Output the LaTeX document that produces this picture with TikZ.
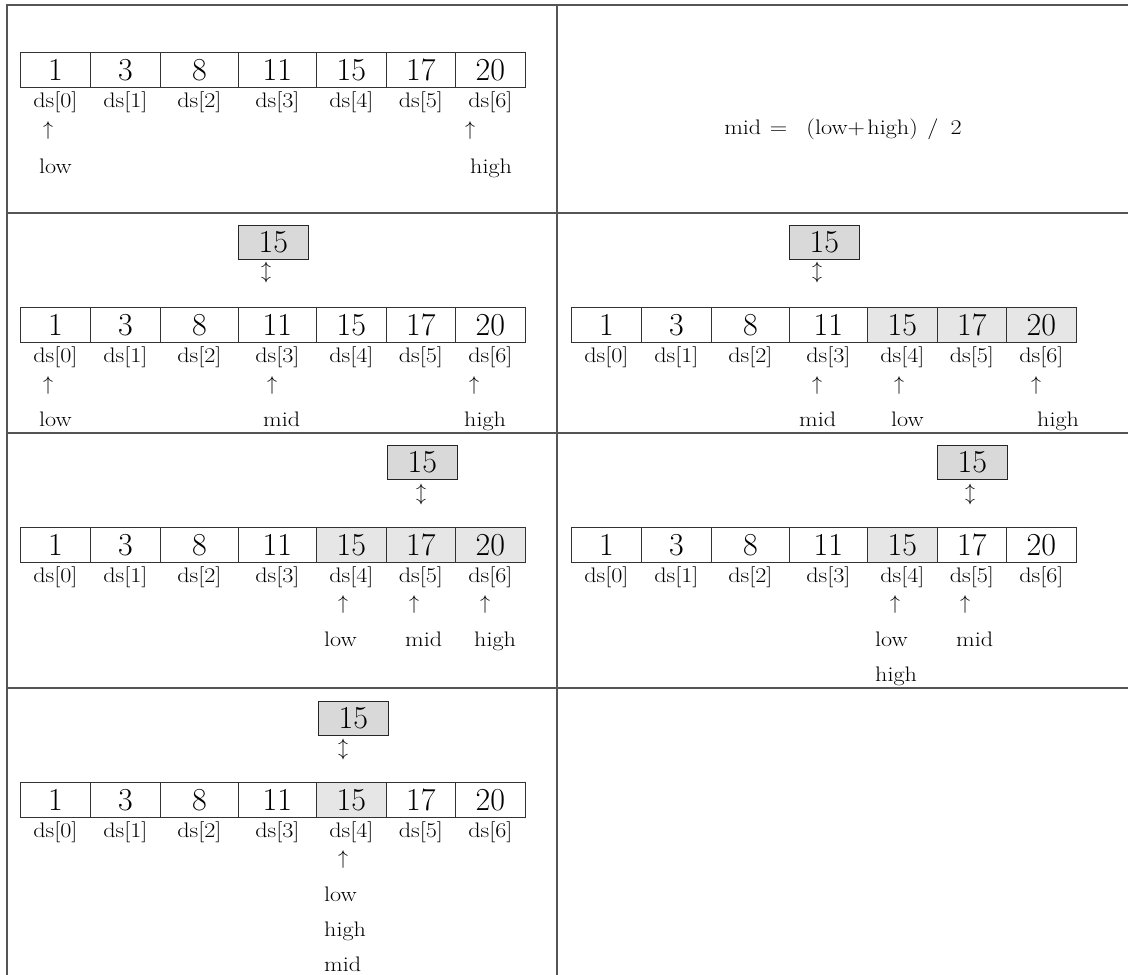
\RequirePackage{fix-cm}
\documentclass[tikz,border=0pt]{standalone}
\usepackage{graphicx}
\newcommand{\wt}[1]{\scalebox{1.15}[1]{#1}}
\definecolor{framegray}{HTML}{555555}
\definecolor{boxfill}{HTML}{D9D9D9}
\definecolor{cellfill}{HTML}{E6E6E6}
\tikzset{
  frameline/.style={draw=framegray, line width=1.3pt},
  cell/.style={draw=black!80, line width=0.8pt, inner sep=0pt, minimum height=35pt,
    anchor=north west, font=\fontsize{32}{32}\selectfont},
  keybox/.style={draw=black!85, line width=0.8pt, fill=boxfill, inner sep=0pt,
    minimum width=70pt, minimum height=34pt, anchor=north west, font=\fontsize{32}{32}\selectfont},
  idx/.style={inner sep=0pt, font=\fontsize{21}{21}\selectfont},
  ptr/.style={inner sep=0pt, font=\fontsize{20}{20}\selectfont},
  lbl/.style={inner sep=0pt, anchor=base west, font=\fontsize{21}{21}\selectfont},
}
% #1 name prefix, #2 x offset, #3 top y, #4..#5 highlighted range
\newcommand{\darray}[5]{%
  \foreach \i/\l/\w/\v in {0/20/70/1, 1/90/70/3, 2/160/78/8, 3/238/78/11,
                           4/316/70/15, 5/386/69/17, 6/455/70/20}{%
    \pgfmathtruncatemacro{\hh}{100*and(\i>=#4,\i<=#5)}%
    \node[cell, fill=cellfill!\hh!white, minimum width=\w pt] (#1c\i) at ({\l+#2},#3) {\v};
    \node[idx] (#1d\i) at ([yshift=-14pt]#1c\i.south) {\wt{ds[\i]}};
  }%
}
\begin{document}
\begin{tikzpicture}[x=1pt,y=-1pt]
\useasboundingbox (0,0) rectangle (1128,975);
% frame
\draw[frameline] (7,975) -- (7,5) -- (1128,5);
\draw[frameline] (557,5) -- (557,975);
\foreach \y in {213,433,688} \draw[frameline] (7,\y) -- (1128,\y);

% ---- row 1 left
\darray{a}{0}{52}{9}{9}
\node[ptr] (aup0) at (48,130) {$\uparrow$};
\node[ptr] (aup6) at (470,130) {$\uparrow$};
\node[lbl] (alow) at (39,173) {\wt{low}};
\node[lbl] (ahigh) at (470,173) {\wt{high}};
% ---- row 1 right
\node[idx] (formula) at (843,129) {\wt{mid\hspace{0.35em}=\hspace{0.8em}(low+\hspace{0.1em}high)\hspace{0.4em}/\hspace{0.5em}2}};

% ---- row 2 left
\node[keybox] (bkey) at (238,225) {15};
\node[ptr] (bud) at (266,272) {$\updownarrow$};
\darray{b}{0}{307}{9}{9}
\node[ptr] (bup0) at (48,385) {$\uparrow$};
\node[ptr] (bup3) at (272,385) {$\uparrow$};
\node[ptr] (bup6) at (474,385) {$\uparrow$};
\node[lbl] (blow) at (39,426) {\wt{low}};
\node[lbl] (bmid) at (263,426) {\wt{mid}};
\node[lbl] (bhigh) at (464,426) {\wt{high}};

% ---- row 2 right
\node[keybox] (ckey) at (789,225) {15};
\node[ptr] (cud) at (817,272) {$\updownarrow$};
\darray{c}{551}{307}{4}{6}
\node[ptr] (cup3) at (817,385) {$\uparrow$};
\node[ptr] (cup4) at (899,385) {$\uparrow$};
\node[ptr] (cup6) at (1036,385) {$\uparrow$};
\node[lbl] (cmid) at (799,426) {\wt{mid}};
\node[lbl] (clow) at (891,426) {\wt{low}};
\node[lbl] (chigh) at (1037,426) {\wt{high}};

% ---- row 3 left
\node[keybox] (dkey) at (387,445) {15};
\node[ptr] (dud) at (421,494) {$\updownarrow$};
\darray{d}{0}{527}{4}{6}
\node[ptr] (dup4) at (343,604) {$\uparrow$};
\node[ptr] (dup5) at (414,604) {$\uparrow$};
\node[ptr] (dup6) at (485,604) {$\uparrow$};
\node[lbl] (dlow) at (324,646) {\wt{low}};
\node[lbl] (dmid) at (405,646) {\wt{mid}};
\node[lbl] (dhigh) at (474,646) {\wt{high}};

% ---- row 3 right
\node[keybox] (ekey) at (937,445) {15};
\node[ptr] (eud) at (970,494) {$\updownarrow$};
\darray{e}{551}{527}{4}{4}
\node[ptr] (eup4) at (895,604) {$\uparrow$};
\node[ptr] (eup5) at (965,604) {$\uparrow$};
\node[lbl] (elow) at (875,646) {\wt{low}};
\node[lbl] (emid) at (956,646) {\wt{mid}};
\node[lbl] (ehigh) at (875,681) {\wt{high}};

% ---- row 4 left
\node[keybox] (fkey) at (318,701) {15};
\node[ptr] (fud) at (343,749) {$\updownarrow$};
\darray{f}{0}{782}{4}{4}
\node[ptr] (fup4) at (343,859) {$\uparrow$};
\node[lbl] (flow) at (324,901) {\wt{low}};
\node[lbl] (fhigh) at (324,936) {\wt{high}};
\node[lbl] (fmid) at (324,971) {\wt{mid}};
\end{tikzpicture}
\end{document}
